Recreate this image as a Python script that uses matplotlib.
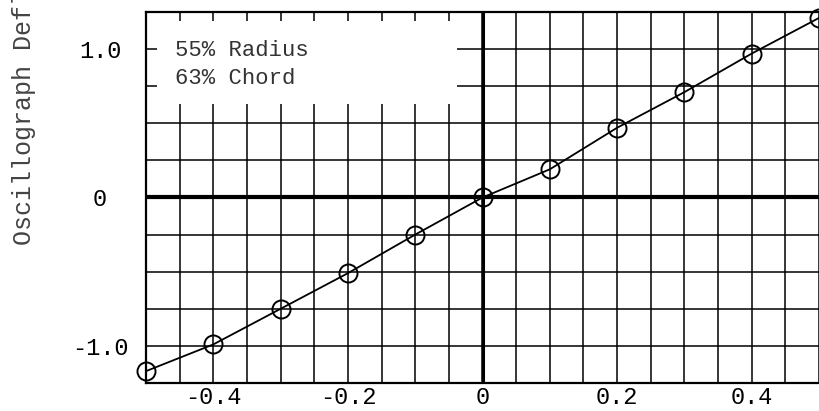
import numpy as np
import matplotlib.pyplot as plt
from matplotlib.patches import Rectangle

# readings
x_vals = [-0.5, -0.4, -0.3, -0.2, -0.1, 0.0, 0.1, 0.2, 0.3, 0.4, 0.5]
y_vals = [-1.17, -0.99, -0.75, -0.51, -0.25, 0.0, 0.19, 0.47, 0.71, 0.97, 1.21]

x_ticks = [-0.4, -0.2, 0, 0.2, 0.4]
x_labels = ['-0.4', '-0.2', '0', '0.2', '0.4']
y_ticks = [-1.0, 0, 1.0]
y_labels = ['-1.0', '0', '1.0']
note_lines = ['55% Radius', '63% Chord']

mono = 'Liberation Mono'

fig = plt.figure(figsize=(8.19, 4.11), dpi=100)
ax = fig.add_axes([146 / 819, 1 - 383 / 411, (819 - 146) / 819, (383 - 12) / 411])
ax.set_xlim(-0.5, 0.5)
ax.set_ylim(-1.25, 1.25)

# graph paper grid
for gx in np.arange(-0.5, 0.501, 0.05):
	ax.axvline(gx, color='black', lw=1.1, zorder=1)
for gy in np.arange(-1.25, 1.251, 0.25):
	ax.axhline(gy, color='black', lw=1.1, zorder=1)
ax.axhline(0, color='black', lw=3.0, zorder=2)
ax.axvline(0, color='black', lw=2.2, zorder=2)

# blank patch where the note sits
ax.add_patch(Rectangle((-0.484, 0.63), 0.446, 0.56, facecolor='white', edgecolor='none', zorder=3))
ax.text(-0.457, 0.99, note_lines[0], fontsize=16, family=mono, color='#333333', va='center', zorder=4)
ax.text(-0.457, 0.80, note_lines[1], fontsize=16, family=mono, color='#333333', va='center', zorder=4)

ax.plot(x_vals, y_vals, color='black', lw=1.3, marker='o', markersize=13,
	markerfacecolor='none', markeredgecolor='black', markeredgewidth=1.4, zorder=5, clip_on=False)

for s in ax.spines.values():
	s.set_linewidth(1.6)
ax.spines['right'].set_visible(False)

ax.set_xticks(x_ticks)
ax.set_xticklabels(x_labels, fontsize=17, family=mono)
ax.set_yticks(y_ticks)
ax.set_yticklabels(y_labels, fontsize=17, family=mono, ha='center')
ax.tick_params(axis='both', length=0)
ax.tick_params(axis='x', pad=2)
ax.tick_params(axis='y', pad=33)

fig.text(24 / 819, 1 - 245 / 411, 'Oscillograph Deflection', rotation=90, fontsize=18,
	family=mono, color='#444444', ha='center', va='bottom')

fig.savefig('out.png', dpi=100)
